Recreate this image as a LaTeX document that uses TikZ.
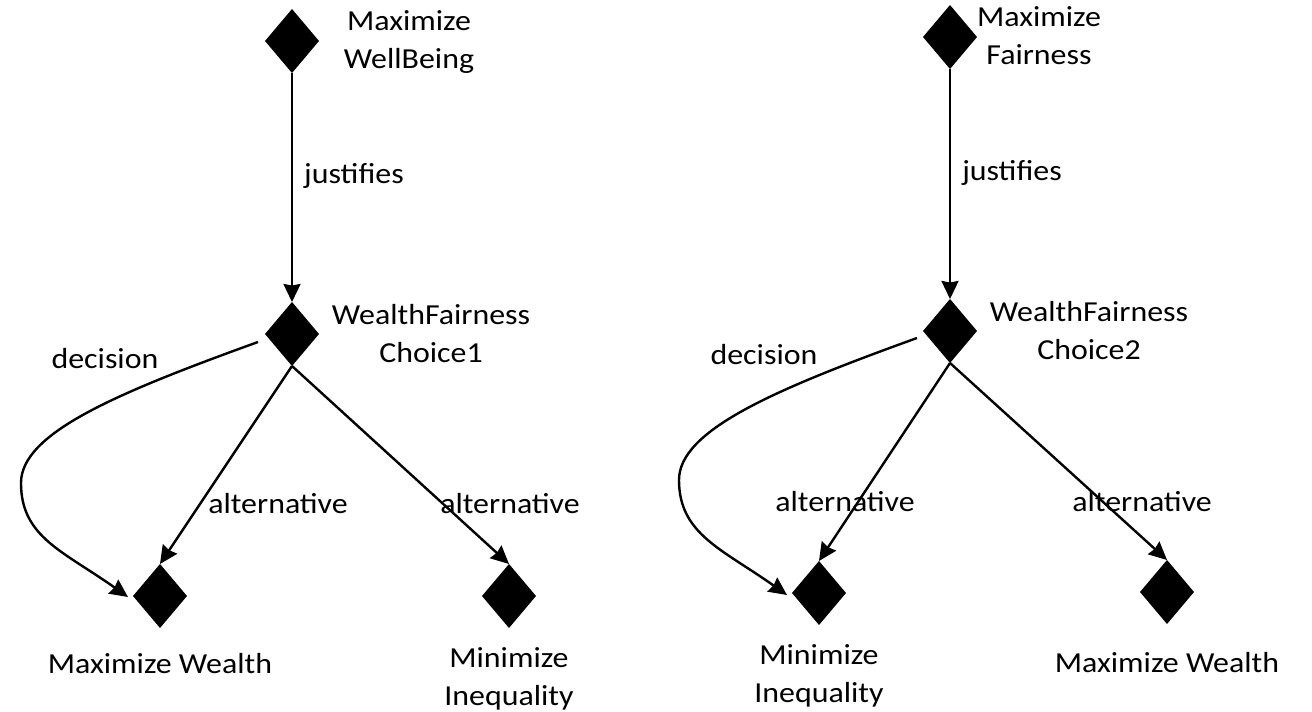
\documentclass[tikz,border=0pt]{standalone}
\usepackage{fontspec}
\setmainfont[FakeStretch=1.1]{Carlito}
\usetikzlibrary{shapes.geometric,arrows.meta,calc}
\begin{document}
\begin{tikzpicture}[x=1pt,y=-1pt,
  goal/.style={diamond,fill=black,draw=none,inner sep=0pt,outer sep=0pt,
               minimum width=54pt,minimum height=64pt},
  lbl/.style={font=\fontsize{29}{38}\selectfont,align=center,anchor=base,inner sep=0pt},
  link/.style={line width=2.4pt,-{Stealth[length=18pt,width=17pt,inset=1.5pt]}},
]
\useasboundingbox (0,0) rectangle (1312,712);

% left tree: well-being
\node[goal] (a1) at (292,41) {};
\node[goal] (b1) at (292,334) {};
\node[goal] (c1) at (160,596) {};
\node[goal] (d1) at (509,596) {};

% two-line labels are placed by the baseline of their last line
\node[lbl] (a1t) at (409,68) {Maximize\\WellBeing};
\node[lbl] (b1t) at (431,362) {WealthFairness\\Choice1};
\node[lbl] (c1t) at (160,673) {Maximize Wealth};
\node[lbl] (d1t) at (509,705) {Minimize\\Inequality};

\draw[link] (a1.south) -- (b1.north);
\draw[link] (b1.south) -- (c1.north);
\draw[link] (b1.south) -- (d1.north);
\draw[link] ($(b1)+(-34,8)$) .. controls +(-141,51) and +(0,-50) .. ($(b1)+(-271,149)$)
            .. controls +(0,54) and +(-65,-46) .. ($(c1)+(-32,1)$);

\node[lbl] (j1) at (354,183) {justifies};
\node[lbl] (dc1) at (105,368) {decision};
\node[lbl] (al1) at (278,513) {alternative};
\node[lbl] (al2) at (510,513) {alternative};

% right tree: fairness
\node[goal] (a2) at (950,37) {};
\node[goal] (b2) at (950,331) {};
\node[goal] (c2) at (819,593) {};
\node[goal] (d2) at (1167,592) {};

\node[lbl] (a2t) at (1039,64) {Maximize\\Fairness};
\node[lbl] (b2t) at (1089,359) {WealthFairness\\Choice2};
\node[lbl] (c2t) at (819,702) {Minimize\\Inequality};
\node[lbl] (d2t) at (1167,672) {Maximize Wealth};

\draw[link] (a2.south) -- (b2.north);
\draw[link] (b2.south) -- (c2.north);
\draw[link] (b2.south) -- (d2.north);
\draw[link] ($(b2)+(-33,7)$) .. controls +(-141,51) and +(0,-50) .. ($(b2)+(-271,149)$)
            .. controls +(0,54) and +(-65,-46) .. ($(c2)+(-32,2)$);

\node[lbl] (j2) at (1012,180) {justifies};
\node[lbl] (dc2) at (764,364) {decision};
\node[lbl] (al3) at (845,511) {alternative};
\node[lbl] (al4) at (1142,511) {alternative};
\end{tikzpicture}
\end{document}
